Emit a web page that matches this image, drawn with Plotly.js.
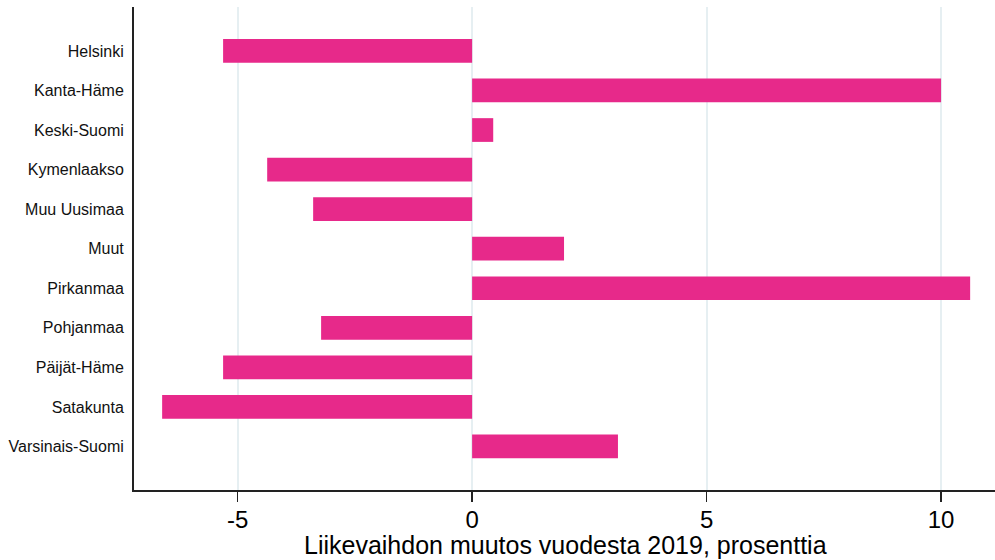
<!DOCTYPE html>
<html>
<head>
<meta charset="utf-8">
<script src="https://cdn.plot.ly/plotly-3.0.1.min.js"></script>
<style>html,body{margin:0;padding:0;background:#fff;}#chart{width:995px;height:560px;}</style>
</head>
<body>
<div id="chart"></div>
<script>
const regions = ["Helsinki","Kanta-Häme","Keski-Suomi","Kymenlaakso","Muu Uusimaa","Muut","Pirkanmaa","Pohjanmaa","Päijät-Häme","Satakunta","Varsinais-Suomi"];
const changes = [-5.31, 10.0, 0.45, -4.37, -3.39, 1.96, 10.62, -3.22, -5.31, -6.61, 3.11];
const xTicks = [-5, 0, 5, 10];
const xTitle = "Liikevaihdon muutos vuodesta 2019, prosenttia";

const trace = {
  type: "bar",
  orientation: "h",
  x: changes,
  y: regions,
  marker: {color: "#e7298a", line: {width: 0}},
  width: 0.6,
  hoverinfo: "x+y"
};

const layout = {
  width: 995, height: 560,
  margin: {l: 134, r: 0, t: 7, b: 70},
  paper_bgcolor: "#fff", plot_bgcolor: "#fff",
  showlegend: false,
  font: {family: "Liberation Sans, Arial, sans-serif", color: "#000"},
  xaxis: {
    range: [-7.21, 11.15],
    tickvals: xTicks,
    ticktext: xTicks.map(String),
    showgrid: true, gridcolor: "#e6eff2", gridwidth: 2,
    zeroline: false,
    showline: true, linecolor: "#222", linewidth: 2,
    ticks: "outside", ticklen: 10, tickwidth: 1.5, tickcolor: "#222",
    ticklabelstandoff: -3,
    tickfont: {size: 24, family: "Liberation Sans, Arial, sans-serif"},
    fixedrange: true
  },
  yaxis: {
    type: "category",
    categoryorder: "array", categoryarray: regions,
    range: [11.1, -1.11],
    showgrid: false, zeroline: false,
    showline: true, linecolor: "#222", linewidth: 2,
    ticks: "", ticklabelstandoff: 5,
    tickfont: {size: 16, family: "Liberation Sans, Arial, sans-serif", color: "#111"},
    fixedrange: true
  },
  annotations: [{
    text: xTitle,
    xref: "paper", yref: "paper",
    x: 0.501, y: 0,
    xanchor: "center", yanchor: "middle",
    yshift: -55,
    showarrow: false,
    font: {size: 25, family: "Liberation Sans, Arial, sans-serif", color: "#000"}
  }],
  bargap: 0.4
};

Plotly.newPlot("chart", [trace], layout, {displayModeBar: false, staticPlot: true});
</script>
</body>
</html>
